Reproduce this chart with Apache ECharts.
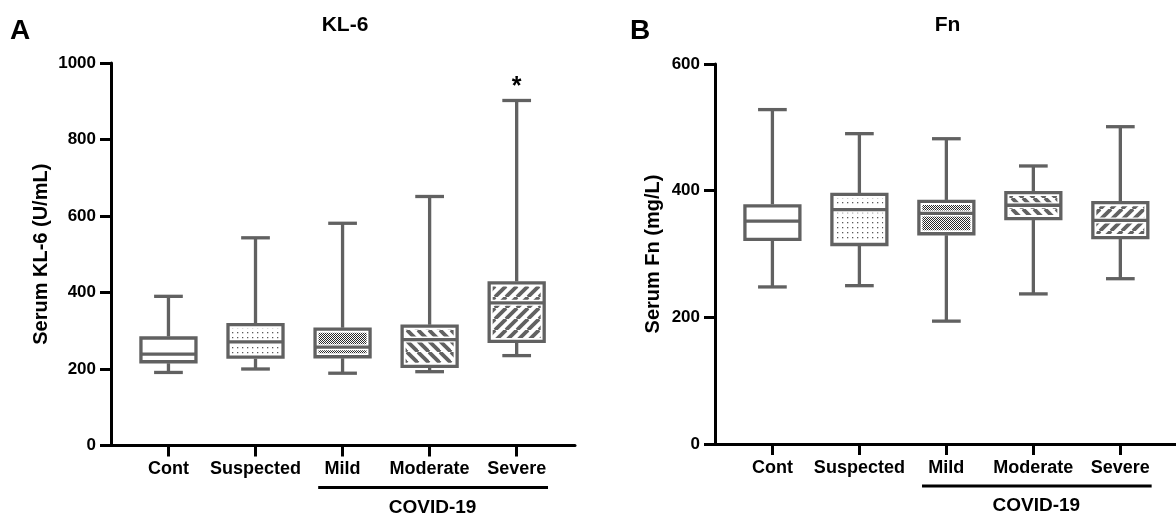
<!DOCTYPE html>
<html><head><meta charset="utf-8">
<script src="https://cdn.jsdelivr.net/npm/echarts@6/dist/echarts.min.js"></script>
<style>html,body{margin:0;padding:0;background:#fff}#c{width:1176px;height:519px}</style>
</head><body><div id="c"></div>
<script>
// ---- data ----
const categories = ['Cont', 'Suspected', 'Mild', 'Moderate', 'Severe'];
const covidGroup = ['Mild', 'Moderate', 'Severe'];
const kl6Min    = [191, 200, 189, 193, 235];
const kl6Q1     = [219, 231, 232, 207, 272];
const kl6Median = [239, 271, 257, 277, 373];
const kl6Q3     = [281, 316, 304, 312, 425];
const kl6Max    = [390, 543, 581, 651, 902];
const kl6Marks  = ['', '', '', '', '*'];
const fnMin     = [248, 250, 194, 237, 261];
const fnQ1      = [323, 315, 332, 356, 326];
const fnMedian  = [352, 370, 364, 377, 353];
const fnQ3      = [376, 394, 383, 397, 381];
const fnMax     = [528, 490, 482, 439, 501];
const fnMarks   = ['', '', '', '', ''];
const kl6Ticks  = [0, 200, 400, 600, 800, 1000];
const fnTicks   = [0, 200, 400, 600];

const GRAY = '#616161';
const FONT = 'Arial, "Liberation Sans", sans-serif';

function tile(w, h, draw) {
  const c = document.createElement('canvas');
  c.width = w; c.height = h;
  const g = c.getContext('2d');
  g.fillStyle = '#fff'; g.fillRect(0, 0, w, h);
  draw(g);
  return { image: c, repeat: 'repeat' };
}
const S = 11;
const patterns = [
  '#ffffff',
  tile(5, 5, g => { g.fillStyle = '#5a5a5a'; g.fillRect(2, 2, 1.3, 1.3); }),
  tile(2, 2, g => { g.fillStyle = '#2a2a2a'; g.fillRect(0, 0, 1, 1); g.fillRect(1, 1, 1, 1); }),
  tile(S, S, g => { g.strokeStyle = GRAY; g.lineWidth = 3.8; for (let k = -1; k <= 1; k++) { g.beginPath(); g.moveTo(k * S, 0); g.lineTo(k * S + S, S); g.stroke(); } }),
  tile(S, S, g => { g.strokeStyle = GRAY; g.lineWidth = 3.8; for (let k = -1; k <= 1; k++) { g.beginPath(); g.moveTo(k * S, S); g.lineTo(k * S + S, 0); g.stroke(); } })
];

function buildData(lo, q1, med, q3, hi) {
  return categories.map((c, i) => [i + 1, lo[i], q1[i], med[i], q3[i], hi[i]]);
}

function makeRender(marks) {
  return function (params, api) {
    const i = params.dataIndex;
    const x = api.value(0);
    const lo = api.coord([x, api.value(1)]);
    const q1 = api.coord([x, api.value(2)]);
    const med = api.coord([x, api.value(3)]);
    const q3 = api.coord([x, api.value(4)]);
    const hi = api.coord([x, api.value(5)]);
    const unit = api.size([1, 0])[0];
    const hw = unit * 0.316, cw = unit * 0.165;
    const cx = lo[0];
    const ls = { stroke: GRAY, lineWidth: 3.3, fill: null };
    const children = [
      { type: 'rect', shape: { x: cx - hw, y: q3[1], width: 2 * hw, height: q1[1] - q3[1] }, style: { fill: patterns[i], stroke: '#fff', lineWidth: 7 } },
      { type: 'line', shape: { x1: cx - hw, y1: med[1], x2: cx + hw, y2: med[1] }, style: { stroke: i === 0 ? null : '#fff', lineWidth: 6 } },
      { type: 'line', shape: { x1: cx, y1: hi[1], x2: cx, y2: q3[1] - 1.5 }, style: ls },
      { type: 'line', shape: { x1: cx, y1: q1[1] + 1.5, x2: cx, y2: lo[1] }, style: ls },
      { type: 'line', shape: { x1: cx - cw, y1: hi[1], x2: cx + cw, y2: hi[1] }, style: ls },
      { type: 'line', shape: { x1: cx - cw, y1: lo[1], x2: cx + cw, y2: lo[1] }, style: ls },
      { type: 'rect', shape: { x: cx - hw, y: q3[1], width: 2 * hw, height: q1[1] - q3[1] }, style: { fill: null, stroke: GRAY, lineWidth: 3.3 } },
      { type: 'line', shape: { x1: cx - hw, y1: med[1], x2: cx + hw, y2: med[1] }, style: ls }
    ];
    if (marks[i]) {
      children.push({ type: 'text', x: cx, y: hi[1] - 1, style: { text: marks[i], fill: '#000', font: 'bold 25px ' + FONT, align: 'center', verticalAlign: 'bottom' } });
    }
    return { type: 'group', children };
  };
}

const grids = [
  { left: 111, top: 63, width: 464, height: 382.5 },
  { left: 715, top: 64, width: 461, height: 380 }
];
const xRanges = [[0.34, 5.67], [0.34, 5.64]];

function xAxis(idx) {
  return {
    type: 'value', gridIndex: idx, min: xRanges[idx][0], max: xRanges[idx][1],
    splitLine: { show: false },
    axisLine: { onZero: false, lineStyle: { color: '#000', width: 3 } },
    axisTick: { customValues: [1, 2, 3, 4, 5], length: 11, lineStyle: { color: '#000', width: 3 } },
    axisLabel: { customValues: [1, 2, 3, 4, 5], formatter: v => categories[Math.round(v) - 1] || '', margin: 15, color: '#000', fontWeight: 'bold', fontSize: 18, fontFamily: FONT }
  };
}
function yAxis(idx, ticks, name, gap) {
  return {
    type: 'value', gridIndex: idx, min: ticks[0], max: ticks[ticks.length - 1], interval: ticks[1] - ticks[0],
    name: name, nameLocation: 'middle', nameGap: gap, nameRotate: 90,
    nameTextStyle: { color: '#000', fontWeight: 'bold', fontSize: 20, fontFamily: FONT },
    splitLine: { show: false },
    axisLine: { show: true, lineStyle: { color: '#000', width: 3 } },
    axisTick: { show: true, length: 11, lineStyle: { color: '#000', width: 3 } },
    axisLabel: { margin: 15, formatter: v => String(v), color: '#000', fontWeight: 'bold', fontSize: 17, fontFamily: FONT }
  };
}

const chart = echarts.init(document.getElementById('c'), null, { renderer: 'canvas' });
chart.setOption({
  animation: false,
  backgroundColor: '#fff',
  grid: grids,
  xAxis: [xAxis(0), xAxis(1)],
  yAxis: [yAxis(0, kl6Ticks, 'Serum KL-6 (U/mL)', 60), yAxis(1, fnTicks, 'Serum Fn (mg/L)', 52)],
  series: [
    { type: 'custom', xAxisIndex: 0, yAxisIndex: 0, renderItem: makeRender(kl6Marks), data: buildData(kl6Min, kl6Q1, kl6Median, kl6Q3, kl6Max), encode: { x: 0, y: [1, 2, 3, 4, 5] } },
    { type: 'custom', xAxisIndex: 1, yAxisIndex: 1, renderItem: makeRender(fnMarks), data: buildData(fnMin, fnQ1, fnMedian, fnQ3, fnMax), encode: { x: 0, y: [1, 2, 3, 4, 5] } }
  ]
});

// annotations: panel letters, titles, COVID-19 bracket
const gfx = [];
[0, 1].forEach(idx => {
  const first = categories.indexOf(covidGroup[0]) + 1;
  const last = categories.indexOf(covidGroup[covidGroup.length - 1]) + 1;
  const mid = categories.indexOf(covidGroup[1]) + 1;
  const x1 = chart.convertToPixel({ xAxisIndex: idx }, first - 0.28);
  const x2 = chart.convertToPixel({ xAxisIndex: idx }, last + 0.36);
  const xm = chart.convertToPixel({ xAxisIndex: idx }, mid);
  const yb = grids[idx].top + grids[idx].height;
  gfx.push({ type: 'line', shape: { x1: x1, y1: yb + 42, x2: x2, y2: yb + 42 }, style: { stroke: '#000', lineWidth: 3 } });
  gfx.push({ type: 'text', x: xm + 3, y: yb + 62, style: { text: 'COVID-19', fill: '#000', font: 'bold 19px ' + FONT, align: 'center', verticalAlign: 'middle' } });
  const gc = grids[idx].left + grids[idx].width / 2;
  gfx.push({ type: 'text', x: gc + 2, y: 25, style: { text: idx === 0 ? 'KL-6' : 'Fn', fill: '#000', font: 'bold 21px ' + FONT, align: 'center', verticalAlign: 'middle' } });
});
gfx.push({ type: 'text', x: 20, y: 31, style: { text: 'A', fill: '#000', font: 'bold 28px ' + FONT, align: 'center', verticalAlign: 'middle' } });
gfx.push({ type: 'text', x: 640, y: 31, style: { text: 'B', fill: '#000', font: 'bold 28px ' + FONT, align: 'center', verticalAlign: 'middle' } });
chart.setOption({ graphic: gfx });
</script>
</body></html>
